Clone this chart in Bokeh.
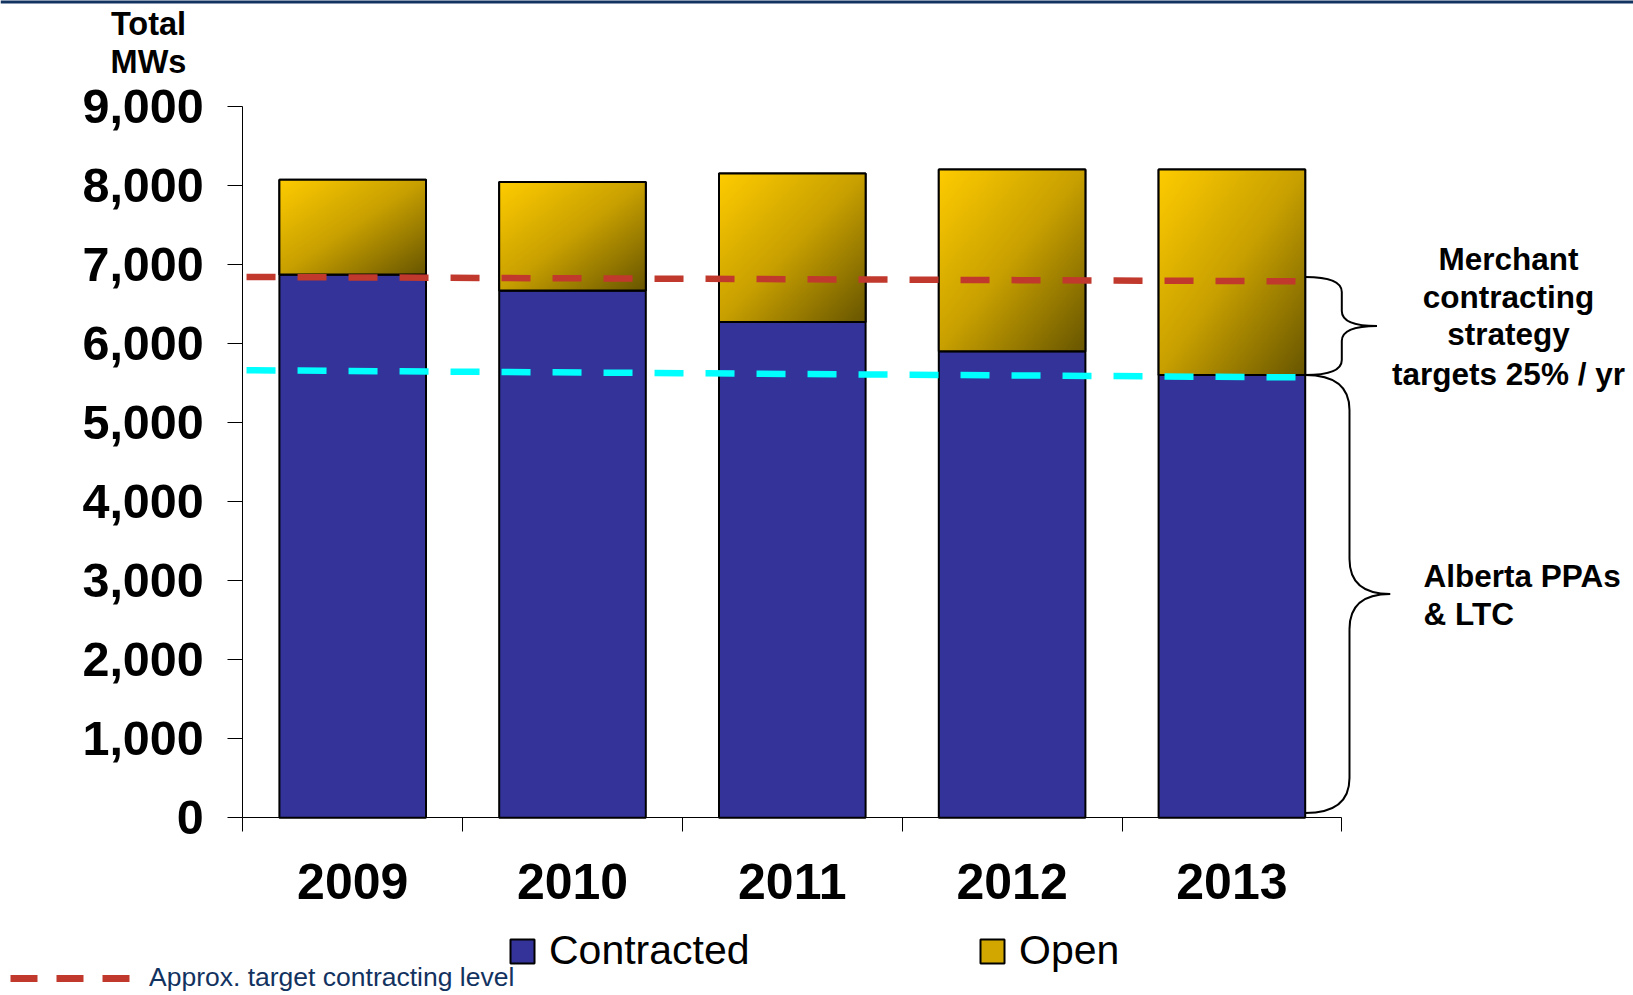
import numpy as np
from bokeh.plotting import figure
from bokeh.models import (Range1d, FixedTicker, NumeralTickFormatter, Label, Legend,
                          LegendItem, BoxAnnotation)
from bokeh.embed import file_html
from bokeh.resources import INLINE

# ---------------- data ----------------
years = ["2009", "2010", "2011", "2012", "2013"]
contracted = [6870, 6670, 6270, 5900, 5600]
open_mw = [1200, 1370, 1880, 2300, 2600]
target_level = [6840, 6785]      # red dashed line (start, end)
contract_floor = [5660, 5570]    # cyan dashed line (start, end)
y_ticks = [0, 1000, 2000, 3000, 4000, 5000, 6000, 7000, 8000, 9000]
y_title = ["Total", "MWs"]
merchant_text = ["Merchant", "contracting", "strategy", "targets 25% / yr"]
ppa_text = ["Alberta PPAs", "& LTC"]
legend_labels = ["Contracted", "Open", "Approx. target contracting level"]

# ---------------- layout ----------------
W, H = 1633, 995
X0PX, Y0PX = 242.3, 817.3     # pixel position of data origin (from top-left)
PX_PER_CAT = 219.8
PX_PER_MW = 0.07907
BAR_W = 0.667
FONT = "Liberation Sans"

BLUE = "#333399"
RED = "#C1392D"
CYAN = "#00FFFF"
NAVY = "#12325F"

x_rng = Range1d(-X0PX / PX_PER_CAT, (W - X0PX) / PX_PER_CAT)
y_rng = Range1d(-(H - Y0PX) / PX_PER_MW, Y0PX / PX_PER_MW)

p = figure(width=W, height=H, x_range=x_rng, y_range=y_rng,
           output_backend="svg", toolbar_location=None,
           min_border_left=0, min_border_right=0, min_border_top=0,
           min_border_bottom=0)
p.outline_line_color = None
p.grid.visible = False
p.background_fill_color = "white"
p.border_fill_color = "white"

xc = [i + 0.5 for i in range(len(years))]
total = [c + o for c, o in zip(contracted, open_mw)]

# contracted bars
r_con = p.vbar(x=xc, width=BAR_W, bottom=0, top=contracted,
               fill_color=BLUE, line_color="black", line_width=2)
# open bars (solid base, used for legend)
r_open = p.vbar(x=xc, width=BAR_W, bottom=contracted, top=total,
                fill_color="#D2A800", line_color="black", line_width=2)

# gradient overlay for open bars
def grad_img(n=128):
    u = np.linspace(0, 1, n)[None, :]
    v = np.linspace(1, 0, n)[:, None]       # row 0 is bottom -> v = 1 (distance from top)
    t = (u + v) / 2.0
    st = [0.0, 0.5, 1.0]
    R = np.interp(t, st, [255, 200, 104])
    G = np.interp(t, st, [204, 160, 86])
    B = np.interp(t, st, [0, 0, 0])
    img = np.empty((n, n), dtype=np.uint32)
    view = img.view(dtype=np.uint8).reshape((n, n, 4))
    view[:, :, 0] = R.astype(np.uint8)
    view[:, :, 1] = G.astype(np.uint8)
    view[:, :, 2] = B.astype(np.uint8)
    view[:, :, 3] = 255
    return img

g = grad_img()
p.image_rgba(image=[g] * len(years), x=[x - BAR_W / 2 for x in xc], y=contracted,
             dw=[BAR_W] * len(years), dh=open_mw)
p.vbar(x=xc, width=BAR_W, bottom=contracted, top=total,
       fill_color=None, line_color="black", line_width=2)

# target lines
line_x = [0.017, 4.82]
p.line(x=line_x, y=target_level, line_color=RED, line_width=6.5, line_dash="29 22")
p.line(x=line_x, y=contract_floor, line_color=CYAN, line_width=6.5, line_dash="29 22")
# legend-only renderer (no visible points) with the legend's dash rhythm
r_red_leg = p.line(x=line_x, y=[np.nan, np.nan], line_color=RED, line_width=7,
                   line_dash="27 19")

# braces
def brace(x0, xs, xt, ytop, ybot, r_px):
    r = r_px / PX_PER_MW
    ym = (ytop + ybot) / 2.0
    p.quadratic(x0=[x0, xs, xt, xs], y0=[ytop, ym + r, ym, ybot + r],
                x1=[xs, xt, xs, x0], y1=[ytop - r, ym, ym - r, ybot],
                cx=[xs, xs, xs, xs], cy=[ytop, ym, ym, ybot],
                line_color="black", line_width=2)
    p.segment(x0=[xs, xs], y0=[ytop - r, ym - r], x1=[xs, xs], y1=[ym + r, ybot + r],
              line_color="black", line_width=2)

bar_right = xc[-1] + BAR_W / 2
brace(bar_right, 5.0, 5.16, target_level[0], contracted[-1], 15)
brace(bar_right, 5.035, 5.22, contracted[-1], 60, 35)

# axes (pinned to the data origin so the frame can span the whole page)
p.xaxis.fixed_location = 0
p.yaxis.fixed_location = 0
p.xaxis.ticker = FixedTicker(ticks=xc, minor_ticks=list(range(len(years) + 1)))
p.xaxis.major_label_overrides = {x: y for x, y in zip(xc, years)}
p.xaxis.bounds = (0, len(years))
p.xaxis.axis_line_color = "black"
p.xaxis.axis_line_width = 1
p.xaxis.major_tick_line_color = None
p.xaxis.major_tick_out = 0
p.xaxis.major_tick_in = 0
p.xaxis.minor_tick_line_color = "black"
p.xaxis.minor_tick_out = 14
p.xaxis.minor_tick_in = 0
p.xaxis.major_label_text_font = FONT
p.xaxis.major_label_text_font_style = "bold"
p.xaxis.major_label_text_font_size = "50px"
p.xaxis.major_label_text_color = "black"
p.xaxis.major_label_standoff = 32

p.yaxis.ticker = FixedTicker(ticks=y_ticks)
p.yaxis.formatter = NumeralTickFormatter(format="0,0")
p.yaxis.bounds = (0, y_ticks[-1])
p.yaxis.axis_line_color = "black"
p.yaxis.axis_line_width = 1
p.yaxis.major_tick_line_color = "black"
p.yaxis.major_tick_out = 15
p.yaxis.major_tick_in = 0
p.yaxis.minor_tick_line_color = None
p.yaxis.major_label_text_font = FONT
p.yaxis.major_label_text_font_style = "bold"
p.yaxis.major_label_text_font_size = "48.5px"
p.yaxis.major_label_text_color = "black"
p.yaxis.major_label_standoff = 24

# text annotations (px = from canvas top-left, baseline position)
BASE_FIX = 11.5
def lab(text, px, py, size, align="center", color="black", bold=True):
    p.add_layout(Label(x=px, y=H - py + BASE_FIX, x_units="screen", y_units="screen",
                       text=text, text_font=FONT, text_font_size=size,
                       text_font_style="bold" if bold else "normal",
                       text_color=color, text_align=align, text_baseline="alphabetic"))

lab(y_title[0], 148, 35, "32.5px")
lab(y_title[1], 148, 73, "32.5px")
for t, b in zip(merchant_text, [270, 308, 345, 385]):
    lab(t, 1508, b, "31.5px")
for t, b in zip(ppa_text, [586.7, 625]):
    lab(t, 1423, b, "31.5px", align="left")

# top rule
p.add_layout(BoxAnnotation(left=0, right=W, top=H + 2, bottom=H - 3,
                           left_units="screen", right_units="screen",
                           top_units="screen", bottom_units="screen",
                           fill_color=NAVY, fill_alpha=1, line_color=None))

# legends
legA = Legend(items=[LegendItem(label=legend_labels[0], renderers=[r_con]),
                     LegendItem(label=legend_labels[1], renderers=[r_open])],
              orientation="horizontal", location=(507, 21),
              glyph_width=30, glyph_height=30, label_standoff=12, label_width=428,
              spacing=0, padding=0, margin=0, border_line_color=None,
              background_fill_alpha=0, label_text_font=FONT,
              label_text_font_size="41px", label_text_color="black")
legB = Legend(items=[LegendItem(label=legend_labels[2], renderers=[r_red_leg])],
              orientation="horizontal", location=(10, 2),
              glyph_width=120, glyph_height=10, label_standoff=19,
              spacing=0, padding=0, margin=0, border_line_color=None,
              background_fill_alpha=0, label_text_font=FONT,
              label_text_font_size="26.5px", label_text_color=NAVY)
p.add_layout(legA)
p.add_layout(legB)

open("out.html", "w").write(file_html(p, INLINE))
